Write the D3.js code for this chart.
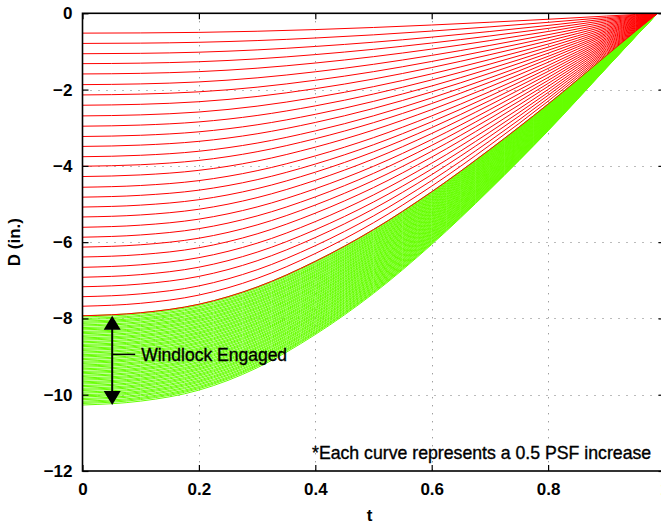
<!DOCTYPE html>
<html><head><meta charset="utf-8">
<script src="https://cdn.jsdelivr.net/npm/d3@7"></script>
<style>body{margin:0;background:#fff}svg{display:block}text{font-family:"Liberation Sans",Arial,Helvetica,sans-serif}</style>
</head><body><svg id="c" width="661" height="525"></svg>
<script>
// ---- data ----
const xTicks = [0, 0.2, 0.4, 0.6, 0.8, 1];
const yTicks = [0, -2, -4, -6, -8, -10, -12];
// normalised time samples and the shape of each deflection curve (fraction of its t=0 value)
const tSamples = [0, 0.1, 0.2, 0.3, 0.4, 0.5, 0.6, 0.7, 0.8, 0.9, 0.95, 0.988];
const redProfile = [1, 0.99, 0.962, 0.905, 0.82, 0.715, 0.59, 0.45, 0.3, 0.14, 0.06, 0];
const greenProfile = [1, 0.99, 0.962, 0.905, 0.82, 0.715, 0.59, 0.45, 0.3, 0.14, 0.06, 0];
// deflection at t = 0 for each curve (0.5 PSF steps)
const redStart = [-0.52, -0.79, -1.06, -1.32, -1.59, -1.87, -2.14, -2.41, -2.69, -2.96, -3.23, -3.49, -3.76, -4.01, -4.28, -4.56, -4.82, -5.08, -5.34, -5.61, -5.87, -6.13, -6.39, -6.66, -6.92, -7.17, -7.43, -7.68, -7.93];
const greenStart = [-7.93, -7.96, -8.00, -8.03, -8.07, -8.10, -8.13, -8.17, -8.20, -8.24,
  -8.27, -8.30, -8.34, -8.37, -8.40, -8.44, -8.47, -8.51, -8.54, -8.57,
  -8.61, -8.64, -8.68, -8.71, -8.74, -8.78, -8.81, -8.84, -8.88, -8.91,
  -8.95, -8.98, -9.01, -9.05, -9.08, -9.12, -9.15, -9.18, -9.22, -9.25,
  -9.28, -9.32, -9.35, -9.39, -9.42, -9.45, -9.49, -9.52, -9.56, -9.59,
  -9.62, -9.66, -9.69, -9.72, -9.76, -9.79, -9.83, -9.86, -9.89, -9.93,
  -9.96, -10.00, -10.03, -10.06, -10.10, -10.13, -10.17, -10.20, -10.23, -10.27];
const windlockRange = [-7.93, -10.27];
const noteText = "*Each curve represents a 0.5 PSF increase";

// ---- drawing ----
const svg = d3.select("#c");
svg.append("rect").attr("width", 661).attr("height", 525).attr("fill", "#fff");
const L = 82.5, R = 664.5, T = 13.3, B = 471;
const x = d3.scaleLinear().domain([0, 1]).range([L, R]);
const y = d3.scaleLinear().domain([-12, 0]).range([B, T]);
const fmtY = d => d === 0 ? "0" : "\u2212" + Math.abs(d);

svg.append("clipPath").attr("id", "pc").append("rect")
  .attr("x", L).attr("y", T).attr("width", R - L).attr("height", B - T);

// grid (under the data)
const grid = svg.append("g").attr("stroke", "#777").attr("stroke-width", 1).attr("stroke-dasharray", "1,7");
grid.selectAll(".gx").data(xTicks.slice(1, -1)).join("line")
  .attr("x1", d => Math.round(x(d)) + 0.5).attr("x2", d => Math.round(x(d)) + 0.5)
  .attr("y1", T).attr("y2", B);
grid.selectAll(".gy").data(yTicks.slice(1, -1)).join("line")
  .attr("y1", d => Math.round(y(d)) + 0.5).attr("y2", d => Math.round(y(d)) + 0.5)
  .attr("x1", L).attr("x2", R);

const line = d3.line().x(p => x(p[0])).y(p => y(p[1])).curve(d3.curveMonotoneX);
const curves = svg.append("g").attr("clip-path", "url(#pc)").attr("fill", "none");
curves.selectAll(".g").data(greenStart).join("path")
  .attr("d", d0 => line(tSamples.map((t, i) => [t, d0 * greenProfile[i]])))
  .attr("stroke", "#66ff00").attr("stroke-width", 1);
curves.selectAll(".r").data(redStart).join("path")
  .attr("d", d0 => line(tSamples.map((t, i) => [t, d0 * redProfile[i]])))
  .attr("stroke", "#ff0000").attr("stroke-width", 1);

// axes box + ticks (MATLAB style, inward)
const ax = svg.append("g");
ax.append("rect").attr("x", L).attr("y", T).attr("width", R - L).attr("height", B - T)
  .attr("fill", "none").attr("stroke", "#000").attr("stroke-width", 1.6);
const axB = d3.axisBottom(x).tickValues(xTicks).tickSize(-6).tickPadding(12).tickFormat(d3.format("~g"));
const axT = d3.axisTop(x).tickValues(xTicks).tickSize(-6).tickFormat("");
const axLft = d3.axisLeft(y).tickValues(yTicks).tickSize(-6).tickPadding(10).tickFormat(fmtY);
const axRt = d3.axisRight(y).tickValues(yTicks).tickSize(-6).tickFormat("");
[[axB, `translate(0,${B})`], [axT, `translate(0,${T})`], [axLft, `translate(${L},0)`], [axRt, `translate(${R},0)`]]
  .forEach(([a, tr]) => {
    const g = ax.append("g").attr("transform", tr).call(a);
    g.select(".domain").remove();
    g.selectAll(".tick line").attr("stroke", "#000").attr("stroke-width", 1.2);
    g.selectAll("text").attr("fill", "#000").attr("font-size", 17).attr("font-weight", "bold")
      .attr("font-family", "'Liberation Sans', Arial, sans-serif");
  });

// axis labels
svg.append("text").attr("x", (L + R) / 2 - 4).attr("y", 521).attr("text-anchor", "middle")
  .attr("font-size", 17).attr("font-weight", "bold").text("t");
svg.append("text").attr("transform", `translate(20,${y(-6)}) rotate(-90)`).attr("text-anchor", "middle")
  .attr("font-size", 17).attr("font-weight", "bold").text("D (in.)");

// windlock arrow
const ann = svg.append("g");
const ax0 = x(0.051);
const y1 = y(windlockRange[0]), y2 = y(windlockRange[1]);
ann.append("line").attr("x1", ax0).attr("x2", ax0).attr("y1", y1 + 12).attr("y2", y2 - 12)
  .attr("stroke", "#000").attr("stroke-width", 2);
ann.append("path").attr("d", `M${ax0},${y1} L${ax0 - 8.5},${y1 + 14} L${ax0 + 8.5},${y1 + 14}Z`).attr("fill", "#000");
ann.append("path").attr("d", `M${ax0},${y2} L${ax0 - 8.5},${y2 - 14} L${ax0 + 8.5},${y2 - 14}Z`).attr("fill", "#000");
const ym = (y1 + y2) / 2 - 6;
ann.append("line").attr("x1", ax0).attr("x2", ax0 + 23).attr("y1", ym).attr("y2", ym)
  .attr("stroke", "#000").attr("stroke-width", 1.5);
ann.append("text").attr("x", ax0 + 29).attr("y", ym + 6.5).attr("font-size", 17.5)
  .attr("stroke", "#000").attr("stroke-width", 0.35).text("Windlock Engaged");

svg.append("text").attr("x", 312).attr("y", 458.5).attr("font-size", 17.7)
  .attr("stroke", "#000").attr("stroke-width", 0.35).text(noteText);
</script></body></html>
